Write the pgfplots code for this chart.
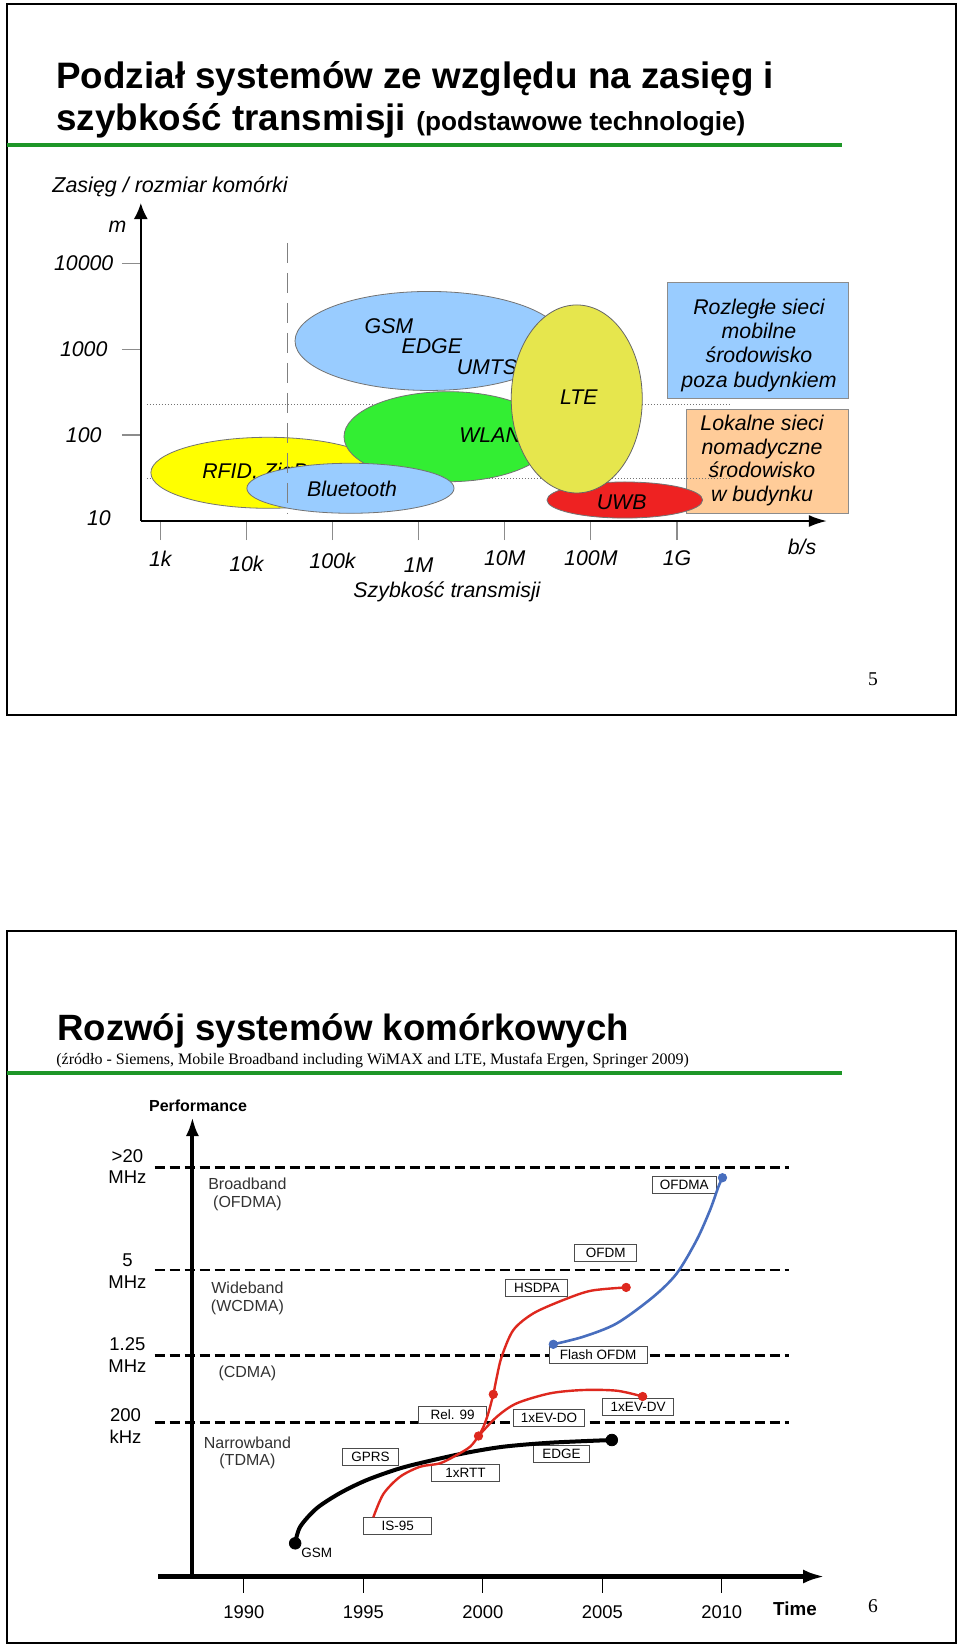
\documentclass[border=0pt]{standalone}
\usepackage{fontspec}
\setmainfont{Liberation Sans}
\newfontfamily\tms{Liberation Serif}
\usepackage{pgfplots}
\pgfplotsset{compat=1.18}
\usetikzlibrary{arrows.meta}

\definecolor{slgreen}{RGB}{30,150,40}
\definecolor{lblue}{RGB}{153,204,255}
\definecolor{wgreen}{RGB}{51,238,51}
\definecolor{lteyel}{RGB}{230,230,77}
\definecolor{rfidyel}{RGB}{255,255,0}
\definecolor{uwbred}{RGB}{238,34,34}
\definecolor{peach}{RGB}{255,204,153}
\definecolor{cred}{RGB}{222,40,30}
\definecolor{cblue}{RGB}{72,110,190}
\newcommand{\fs}[2]{\fontsize{#1pt}{#2pt}\selectfont}
\tikzset{lbox/.style={draw=black!70, fill=white, line width=0.5pt, font=\fs{6.75}{8}, inner xsep=2pt, inner ysep=0pt, minimum height=8.6pt}}

\begin{document}
\begin{tikzpicture}
\path[use as bounding box, fill=white] (0,0) rectangle (480pt,-822.5pt);

\begin{scope}[x=0.5pt,y=-0.5pt]
  % frames of the two slides
  \draw[line width=1.2pt] (7,4) rectangle (956,715);
  \draw[line width=1.2pt] (7,931) rectangle (956,1643);

  % slide 1 header
  \node[anchor=base west, inner sep=0, font=\bfseries\fs{18.4}{22}] at (56,88) {Podział systemów ze względu na zasięg i};
  \node[anchor=base west, inner sep=0, font=\bfseries\fs{18.4}{22}] at (56,130.5) {szybkość transmisji {\fs{13.1}{16}(podstawowe technologie)}};
  \draw[slgreen, line width=2pt] (7,145) -- (842,145);
  \node[anchor=base west, inner sep=0, font=\itshape\fs{10.75}{13}] at (52,192) {Zasięg / rozmiar komórki};

  % legend boxes on the right
  \draw[fill=lblue, draw=black!45, line width=0.5pt] (667.5,282) rectangle (848,398);
  \draw[fill=peach, draw=black!45, line width=0.5pt] (686,409) rectangle (848,513);
  \node[align=center, font=\itshape\fs{10.65}{12.15}] at (759,345.3) {Rozległe sieci\\mobilne\\środowisko\\poza budynkiem};
  \node[align=center, font=\itshape\fs{10.65}{11.75}] at (762,460.3) {Lokalne sieci\\nomadyczne\\środowisko\\w budynku};

  \node[font=\itshape\fs{10.65}{12}] at (117.6,227) {m};
  \node[font=\itshape\fs{10.65}{12}] at (99,518) {10};
  \node[font=\itshape\fs{10.65}{12}] at (802,547) {b/s};
  \node[font=\itshape\fs{10.65}{12}] at (447,591.5) {Szybkość transmisji};
  \node[font=\tms\fs{9.75}{12}] at (873,679) {5};

  % slide 2 header
  \node[anchor=base west, inner sep=0, font=\bfseries\fs{18.3}{22}] at (57,1040) {Rozwój systemów komórkowych};
  \node[anchor=base west, inner sep=0, font=\tms\fs{8}{10}] at (56,1064) {(źródło - Siemens, Mobile Broadband including WiMAX and LTE, Mustafa Ergen, Springer 2009)};
  \draw[slgreen, line width=2pt] (7,1072.6) -- (842,1072.6);

  \node[font=\bfseries\fs{8}{10}] at (198,1105.7) {Performance};
  \node[font=\fs{9.25}{11}] at (127.4,1155.8) {>20};
  \node[font=\fs{9.25}{11}] at (127.4,1177.5) {MHz};
  \node[font=\fs{9.25}{11}] at (127.4,1259.8) {5};
  \node[font=\fs{9.25}{11}] at (127.4,1282) {MHz};
  \node[font=\fs{9.25}{11}] at (127.4,1344.4) {1.25};
  \node[font=\fs{9.25}{11}] at (127.4,1366) {MHz};
  \node[font=\fs{9.25}{11}] at (125.5,1414.7) {200};
  \node[font=\fs{9.25}{11}] at (125.5,1436.4) {kHz};

  \node[text=black!80, font=\fs{8}{10}] at (247.4,1183.5) {Broadband};
  \node[text=black!80, font=\fs{8}{10}] at (247.4,1203) {(OFDMA)};
  \node[text=black!80, font=\fs{8}{10}] at (247.4,1287.5) {Wideband};
  \node[text=black!80, font=\fs{8}{10}] at (247.4,1307.4) {(WCDMA)};
  \node[text=black!80, font=\fs{8}{10}] at (247.4,1373) {(CDMA)};
  \node[text=black!80, font=\fs{8}{10}] at (247.4,1442.4) {Narrowband};
  \node[text=black!80, font=\fs{8}{10}] at (247.4,1461.8) {(TDMA)};

  \node[font=\bfseries\fs{9.4}{11}] at (795,1609) {Time};
  \node[font=\tms\fs{9.75}{12}] at (873,1606) {6};
\end{scope}

% ---------- slide 1: range vs. rate ----------
\begin{axis}[
  at={(70.4pt,-260.5pt)}, anchor=south west,
  scale only axis, width=343pt, height=159pt,
  xmin=-0.227, xmax=7.74, ymin=1, ymax=4.70,
  axis lines=left,
  axis line style={black, line width=0.9pt},
  x axis line style={-{Latex[length=9pt,width=6pt]}},
  y axis line style={-{Latex[length=8pt,width=7pt]}},
  xtick={0,...,6},
  xticklabels={1k,\raisebox{-2.5pt}[\height][\depth]{10k},\raisebox{-1pt}[\height][\depth]{100k},\raisebox{-3.5pt}[\height][\depth]{1M},10M,100M,1G},
  ytick={2,3,4}, yticklabels={100,1000,10000},
  tick align=outside,
  major tick length=9.5pt,
  tick style={black!45, line width=0.6pt},
  ticklabel style={font=\itshape\fs{10.65}{12}},
  xticklabel style={yshift=-2pt},
  yticklabel style={text width=31pt, align=center},
  clip=false,
]
  \draw[black!55, densely dotted, line width=0.5pt] (axis cs:-0.156,2.350) -- (axis cs:6.604,2.350);
  \draw[black!55, densely dotted, line width=0.5pt] (axis cs:-0.156,1.494) -- (axis cs:6.604,1.494);

  \draw[fill=rfidyel, draw=black!55, line width=0.4pt] (axis cs:1.250,1.561) ellipse [x radius=1.360, y radius=0.413];
  \node[anchor=west, inner sep=0, font=\itshape\fs{10.65}{12}] at (axis cs:0.483,1.559) {RFID, ZigBee};
  \draw[fill=wgreen, draw=black!55, line width=0.4pt] (axis cs:3.342,1.981) ellipse [x radius=1.209, y radius=0.524];
  \node[font=\itshape\fs{10.65}{12}] at (axis cs:3.830,2.001) {WLAN};
  \draw[fill=lblue, draw=black!55, line width=0.4pt] (axis cs:2.208,1.381) ellipse [x radius=1.203, y radius=0.291];
  \node[font=\itshape\fs{10.65}{12}] at (axis cs:2.227,1.375) {Bluetooth};
  \draw[fill=lblue, draw=black!55, line width=0.4pt] (axis cs:3.121,3.095) ellipse [x radius=1.557, y radius=0.576];
  \node[font=\itshape\fs{10.65}{12}] at (axis cs:2.655,3.271) {GSM};
  \node[font=\itshape\fs{10.65}{12}] at (axis cs:3.153,3.037) {EDGE};
  \node[font=\itshape\fs{10.65}{12}] at (axis cs:3.793,2.793) {UMTS};
  \draw[fill=uwbred, draw=black!55, line width=0.4pt] (axis cs:5.394,1.244) ellipse [x radius=0.904, y radius=0.210];
  \draw[fill=lteyel, draw=black!60, line width=0.4pt] (axis cs:4.836,2.420) ellipse [x radius=0.761, y radius=1.094];
  \node[font=\itshape\fs{10.65}{12}] at (axis cs:4.861,2.440) {LTE};
  \node[font=\itshape\fs{10.65}{12}] at (axis cs:5.358,1.221) {UWB};

  \draw[black!50, line width=0.6pt, dash pattern=on 10pt off 5pt] (axis cs:1.481,4.236) -- (axis cs:1.481,1.093);
\end{axis}

% ---------- slide 2: evolution of cellular systems ----------
\begin{axis}[
  at={(79pt,-788.25pt)}, anchor=south west,
  scale only axis, width=333.5pt, height=229.75pt,
  xmin=1986.41, xmax=2014.32, ymin=0, ymax=45.95,
  axis x line=bottom, axis y line=none,
  x axis line style={black, line width=2.2pt, -{Latex[length=11pt,width=7pt]}},
  xtick={1990,1995,2000,2005,2010},
  tick align=outside, major tick length=8pt,
  xtick style={black, line width=0.6pt},
  xticklabel style={font=\fs{9.2}{11}, yshift=-3pt},
  /pgf/number format/1000 sep={},
  /pgf/number format/assume math mode=true,
  clip=false,
]
  \draw[black, line width=1.3pt, dash pattern=on 5pt off 2.5pt] (axis cs:1986.27,15.4) -- (axis cs:2012.82,15.4);
  \draw[black, line width=1.3pt, dash pattern=on 5pt off 2.5pt] (axis cs:1986.27,22.1) -- (axis cs:2012.82,22.1);
  \draw[black, line width=1.3pt, dash pattern=on 5pt off 2.5pt] (axis cs:1986.27,30.65) -- (axis cs:2012.82,30.65);
  \draw[black, line width=1.3pt, dash pattern=on 5pt off 2.5pt] (axis cs:1986.27,40.92) -- (axis cs:2012.82,40.92);
  \draw[black, line width=2pt, -{Latex[length=9.5pt,width=6.5pt]}] (axis cs:1987.85,0) -- (axis cs:1987.85,45.95);

  \node[lbox, minimum width=31.8pt] at (axis cs:2008.43,39.15) {OFDMA};
  \node[lbox, minimum width=31.2pt] at (axis cs:2005.14,32.37) {OFDM};
  \node[lbox, minimum width=31.2pt] at (axis cs:2002.26,28.85) {HSDPA};
  \node[lbox, minimum width=49pt] at (axis cs:2004.83,22.18) {Flash OFDM};
  \node[lbox, minimum width=34.2pt] at (axis cs:1998.74,16.18) {Rel. 99};
  \node[lbox, minimum width=35.5pt] at (axis cs:2002.77,15.82) {1xEV-DO};
  \node[lbox, minimum width=35.7pt] at (axis cs:2006.50,16.95) {1xEV-DV};
  \node[lbox, minimum width=28pt] at (axis cs:1995.30,11.95) {GPRS};
  \node[lbox, minimum width=28pt] at (axis cs:2003.29,12.25) {EDGE};
  \node[lbox, minimum width=33.8pt] at (axis cs:1999.28,10.37) {1xRTT};
  \node[lbox, minimum width=34.2pt] at (axis cs:1996.44,5.05) {IS-95};
  \node[font=\fs{6.75}{8}] at (axis cs:1993.05,2.38) {GSM};

  \addplot[black, line width=2pt, smooth, tension=0.5] coordinates {
    (1992.15,3.32) (1992.36,4.98) (1993.05,6.82) (1994.03,8.35) (1995.15,9.65) (1996.54,10.82)
    (1997.93,11.65) (1999.33,12.38) (2000.86,12.98) (2002.82,13.38) (2005.40,13.65)};
  \addplot[cred, line width=1.2pt, smooth, tension=0.5] coordinates {
    (1995.42,5.92) (1995.84,8.25) (1996.54,9.98) (1997.38,10.98) (1998.21,11.32) (1998.91,12.15)
    (1999.47,12.98) (1999.82,14.05) (2000.03,14.98) (2000.23,16.32) (2000.44,18.22) (2000.59,19.98)
    (2000.79,21.98) (2001.28,24.65) (2002.12,26.32) (2003.37,27.65) (2004.53,28.58) (2006.00,28.91)};
  \addplot[cred, line width=1.2pt, smooth, tension=0.5] coordinates {
    (1999.82,14.05) (2000.59,15.98) (2001.42,17.32) (2002.82,18.32) (2004.21,18.65) (2005.61,18.58) (2006.69,18.0)};
  \addplot[cblue, line width=1.3pt, smooth, tension=0.5] coordinates {
    (2002.95,23.22) (2004.21,23.98) (2005.61,25.32) (2007.14,27.98) (2008.12,30.32) (2008.95,33.65)
    (2009.51,36.65) (2009.86,38.98) (2010.03,39.88)};

  \addplot[only marks, mark=*, mark size=2.9pt, black] coordinates {(1992.15,3.32) (2005.40,13.65)};
  \addplot[only marks, mark=*, mark size=2.1pt, cred] coordinates {(1999.82,14.05) (2000.44,18.22) (2006.00,28.91) (2006.69,18.0)};
  \addplot[only marks, mark=*, mark size=2.1pt, cblue] coordinates {(2002.95,23.22) (2010.03,39.88)};
\end{axis}
\end{tikzpicture}
\end{document}
